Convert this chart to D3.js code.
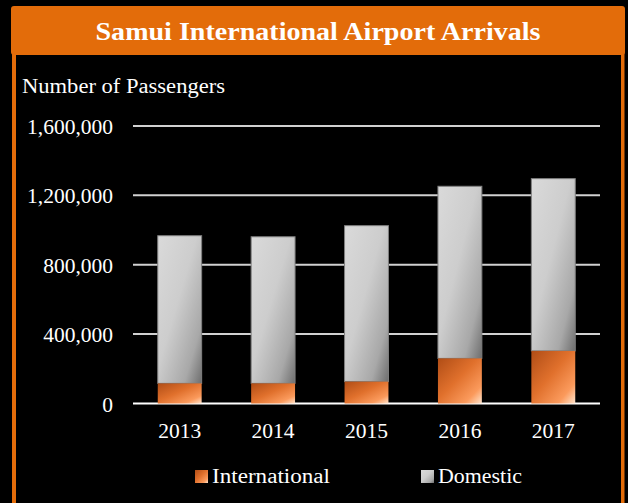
<!DOCTYPE html>
<html><head><meta charset="utf-8">
<script src="https://cdn.jsdelivr.net/npm/d3@7"></script>
<style>body{margin:0;background:#000;}svg{display:block;}</style>
</head><body>
<script>
const years = ["2013","2014","2015","2016","2017"];
const international = [116000, 116000, 126000, 260000, 303000];
const domestic = [851000, 845000, 899000, 992000, 993000];
const yTicks = [0, 400000, 800000, 1200000, 1600000];
const seriesNames = ["International", "Domestic"];

const W = 628, H = 503;
const svg = d3.select("body").append("svg").attr("width", W).attr("height", H);
svg.append("rect").attr("width", W).attr("height", H).attr("fill", "#000");
const ORANGE = "#e36c0a";
const FONT = "'Liberation Serif', 'DejaVu Serif', serif";

const defs = svg.append("defs");
const gD = defs.append("linearGradient").attr("id","gDom").attr("x1",0).attr("y1",0).attr("x2",1).attr("y2",1);
[[0,"#dadada"],[0.45,"#cdcdcd"],[0.8,"#a8a8a8"],[1,"#6e6e6e"]].forEach(s=>gD.append("stop").attr("offset",s[0]).attr("stop-color",s[1]));
const gI = defs.append("linearGradient").attr("id","gInt").attr("x1",0).attr("y1",0).attr("x2",1).attr("y2",1);
[[0,"#b04d16"],[0.45,"#e0702c"],[0.8,"#fb9a5c"],[1,"#ffe4cc"]].forEach(s=>gI.append("stop").attr("offset",s[0]).attr("stop-color",s[1]));

// frame
svg.append("rect").attr("x",12).attr("y",30).attr("width",4).attr("height",H).attr("fill",ORANGE);
svg.append("rect").attr("x",621).attr("y",30).attr("width",3.5).attr("height",H).attr("fill",ORANGE);
svg.append("rect").attr("x",11).attr("y",6).attr("width",614).attr("height",49).attr("rx",3).attr("fill",ORANGE);
svg.append("text").attr("x",318).attr("y",40).attr("text-anchor","middle")
  .attr("font-family",FONT).attr("font-weight","bold").attr("font-size",25).attr("fill","#fff")
  .attr("textLength",445).attr("lengthAdjust","spacingAndGlyphs")
  .text("Samui International Airport Arrivals");

svg.append("text").attr("x",22).attr("y",93).attr("font-family",FONT).attr("font-size",20).attr("fill","#fff")
  .attr("textLength",203).attr("lengthAdjust","spacingAndGlyphs").text("Number of Passengers");

const x = d3.scaleBand().domain(years).range([133,600]).paddingInner(0.53).paddingOuter(0.265);
const y = d3.scaleLinear().domain([0,1600000]).range([403.5,125.9]);

// gridlines
svg.append("g").selectAll("line").data(yTicks).join("line")
  .attr("x1",133).attr("x2",600).attr("y1",d=>y(d)).attr("y2",d=>y(d))
  .attr("stroke",d=>d===0?"#ffffff":"#d0d0d0").attr("stroke-width",2);

const yAxis = svg.append("g").attr("transform","translate(113,0)")
  .call(d3.axisLeft(y).tickValues(yTicks).tickSize(0).tickPadding(0).tickFormat(d3.format(",")));
yAxis.select(".domain").remove();
yAxis.selectAll("text").attr("font-family",FONT).attr("font-size",21.5).attr("fill","#fff").attr("dy","0.35em");

const xAxis = svg.append("g").attr("transform","translate(0,421)")
  .call(d3.axisBottom(x).tickSize(0).tickPadding(0));
xAxis.select(".domain").remove();
xAxis.selectAll("text").attr("font-family",FONT).attr("font-size",21.5).attr("fill","#fff").attr("dy","0.8em");

// bars
const bars = svg.append("g");
years.forEach((yr,i)=>{
  const x0 = x(yr), bw = x.bandwidth();
  const tot = international[i]+domestic[i];
  bars.append("rect").attr("x",x0).attr("y",y(tot)).attr("width",bw).attr("height",y(international[i])-y(tot))
    .attr("fill","url(#gDom)").attr("stroke","#808080").attr("stroke-width",1);
  bars.append("rect").attr("x",x0).attr("y",y(international[i])).attr("width",bw).attr("height",y(0)-y(international[i]))
    .attr("fill","url(#gInt)");
});

// legend
const leg = [[195,212,"url(#gInt)",118],[421,438,"url(#gDom)",84]];
seriesNames.forEach((n,i)=>{
  const L = leg[i];
  svg.append("rect").attr("x",L[0]).attr("y",470).attr("width",13).attr("height",13).attr("fill",L[2]);
  svg.append("text").attr("x",L[1]).attr("y",483).attr("font-family",FONT).attr("font-size",20).attr("fill","#fff")
    .attr("textLength",L[3]).attr("lengthAdjust","spacingAndGlyphs").text(n);
});
</script>
</body></html>
